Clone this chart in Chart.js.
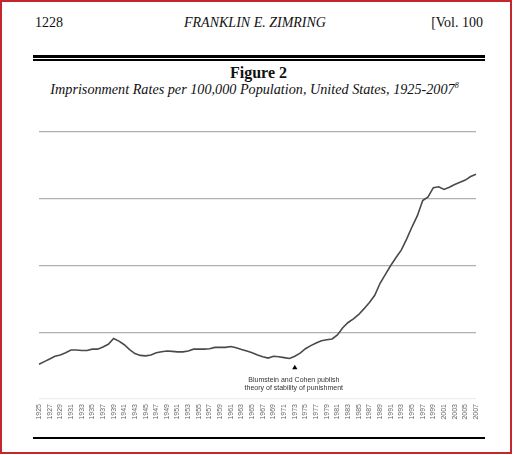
<!DOCTYPE html>
<html>
<head>
<meta charset="utf-8">
<script src="https://cdn.jsdelivr.net/npm/chart.js@4/dist/chart.umd.min.js"></script>
<style>
  html,body{margin:0;padding:0;background:#fff}
  body{width:513px;height:455px;position:relative;overflow:hidden}
  .frame{position:absolute;left:0;top:0;width:512px;height:454px;box-sizing:border-box;border:2px solid #c3262c}
  .hd{position:absolute;font-family:"Liberation Serif",serif;font-size:14px;line-height:14px;color:#111;white-space:nowrap}
  .rule{position:absolute;left:33px;width:452px;background:#000}
  #c{position:absolute;left:0;top:100px}
</style>
</head>
<body>
<div class="frame"></div>
<div class="hd" style="left:35px;top:16px">1228</div>
<div class="hd" style="left:0;width:510px;top:16px;text-align:center;font-style:italic">FRANKLIN E. ZIMRING</div>
<div class="hd" style="right:30px;top:16px">[Vol. 100</div>
<div class="rule" style="top:55px;height:2.5px"></div>
<div class="rule" style="top:59px;height:1.5px"></div>
<div class="hd" style="left:0;width:517px;top:65px;text-align:center;font-weight:bold;font-size:16px;line-height:16px">Figure 2</div>
<div class="hd" style="left:0;width:509px;top:82px;text-align:center;font-style:italic;font-size:14.2px">Imprisonment Rates per 100,000 Population, United States, 1925-2007<sup style="font-size:8px;vertical-align:6px;line-height:0">8</sup></div>
<canvas id="c" width="513" height="340"></canvas>
<div class="rule" style="top:437px;height:1.5px"></div>
<script>
// years on the x axis
var years = ['1925','1926','1927','1928','1929','1930','1931','1932','1933','1934',
  '1935','1936','1937','1938','1939','1940','1941','1942','1943','1944',
  '1945','1946','1947','1948','1949','1950','1951','1952','1953','1954',
  '1955','1956','1957','1958','1959','1960','1961','1962','1963','1964',
  '1965','1966','1967','1968','1969','1970','1971','1972','1973','1974',
  '1975','1976','1977','1978','1979','1980','1981','1982','1983','1984',
  '1985','1986','1987','1988','1989','1990','1991','1992','1993','1994',
  '1995','1996','1997','1998','1999','2000','2001','2002','2003','2004',
  '2005','2006','2007']

// imprisonment rate per 100,000
var rates = [78,84,90,96,99,104,110,110,109,109,
  112,112,117,123,136,130,122,111,102,98,
  97,99,104,106,108,107,106,106,108,112,
  112,112,113,116,116,116,118,115,111,108,
  104,99,95,92,96,95,93,91,96,103,
  113,120,126,131,133,135,144,160,172,180,
  190,203,217,233,260,280,300,318,335,360,
  387,412,446,454,475,477,471,476,482,487,
  492,500,505]

// y gridlines
var yMax = 600, yStep = 150

// annotation marker
var noteYear = '1973', noteValue = 70
var noteLines = ['Blumstein and Cohen publish','theory of stability of punishment']

var notePlugin = {
  id: 'note',
  afterDatasetsDraw: function(chart){
    var ctx = chart.ctx
    var meta = chart.getDatasetMeta(1)
    var pt = meta.data[0]
    ctx.save()
    ctx.font = '7px "Liberation Sans", Arial, sans-serif'
    ctx.fillStyle = '#333'
    ctx.textAlign = 'center'
    ctx.textBaseline = 'middle'
    for(var i = 0; i < noteLines.length; i++){
      ctx.fillText(noteLines[i], pt.x - 1, pt.y + 12 + i * 8.5)
    }
    ctx.restore()
  }
}

new Chart(document.getElementById('c'), {
  type: 'line',
  data: {
    labels: years,
    datasets: [{
      data: rates,
      borderColor: '#4a4a4a',
      borderWidth: 1.6,
      pointRadius: 0,
      tension: 0,
      fill: false
    }, {
      data: [{x: noteYear, y: noteValue}],
      showLine: false,
      pointStyle: 'triangle',
      pointRadius: 3,
      backgroundColor: '#000',
      borderColor: '#000',
      borderWidth: 0
    }]
  },
  options: {
    responsive: false,
    animation: false,
    devicePixelRatio: 1,
    layout: {padding: {left: 39, right: 37, top: 32, bottom: 0}},
    plugins: {legend: {display: false}, tooltip: {enabled: false}, title: {display: false}},
    scales: {
      x: {
        grid: {display: false, drawTicks: false},
        border: {display: false},
        ticks: {
          autoSkip: false,
          minRotation: 90,
          maxRotation: 90,
          padding: 5,
          color: '#666',
          font: {family: '"Liberation Sans", Arial, sans-serif', size: 7},
          callback: function(v, i){ return i % 2 === 0 ? this.getLabelForValue(v) : '' }
        },
        afterFit: function(s){ s.height = 41 }
      },
      y: {
        min: 0,
        max: yMax,
        ticks: {display: false, stepSize: yStep},
        grid: {
          drawTicks: false,
          lineWidth: 1.3,
          color: function(c){ return c.tick.value === 0 ? '#ededed' : '#b0b0b0' }
        },
        border: {display: false},
        afterFit: function(s){ s.width = 0 }
      }
    }
  },
  plugins: [notePlugin]
})
</script>
</body>
</html>
